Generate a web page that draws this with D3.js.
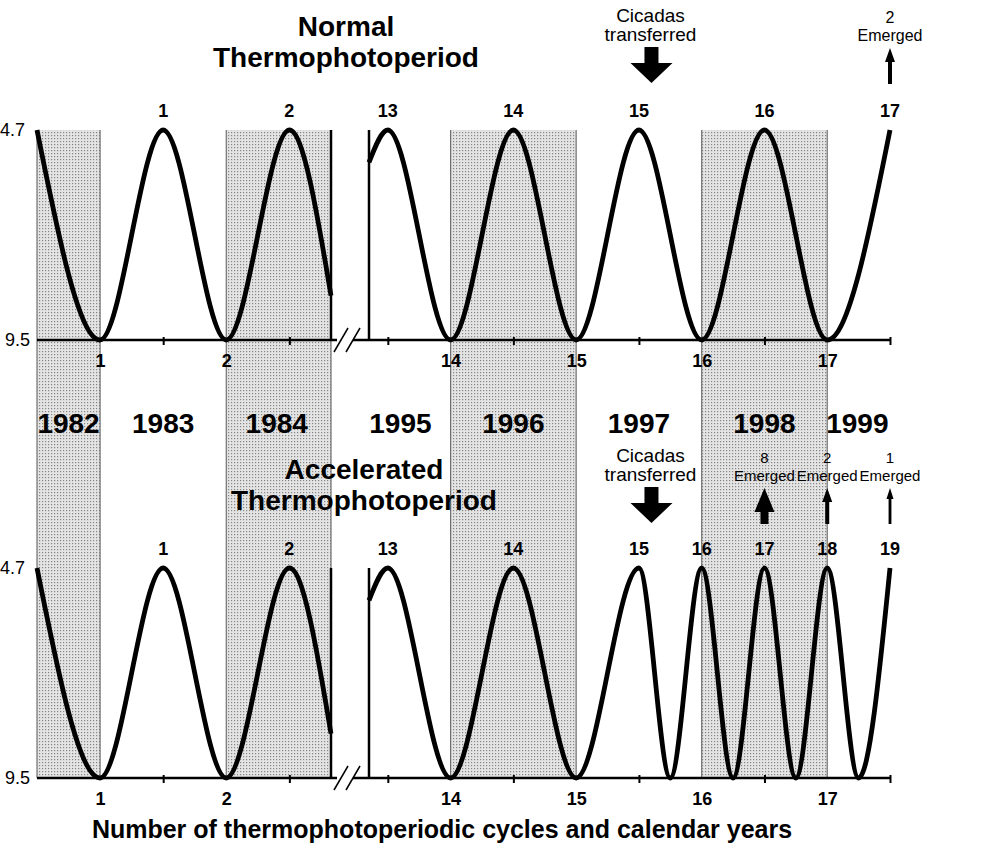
<!DOCTYPE html>
<html>
<head>
<meta charset="utf-8">
<script src="https://cdn.jsdelivr.net/npm/d3@7"></script>
<style>
  body { margin: 0; background: #fff; }
  svg text { font-family: "Liberation Sans", Arial, Helvetica, sans-serif; fill: #000; }
</style>
</head>
<body>
<svg id="chart" width="995" height="859"></svg>
<script>
// photoperiod extremes (hours of light) and the labels printed for them
let photoRange = [9.5, 14.7];
let photoLabels = ["9.5", "4.7"];

// cycle numbers covered by the two pieces of the broken x axis
let segmentDomains = [[0.5, 2.83], [13.35, 17.5]];
let cycleTicks = [1, 2, 14, 15, 16, 17];
let halfTicks = [1.5, 2.5, 13.5, 14.5, 15.5, 16.5, 17.5];

let years = ["1982", "1983", "1984", "1995", "1996", "1997", "1998", "1999"];
let yearCycles = [0.75, 1.5, 2.4, 13.6, 14.5, 15.5, 16.5, 17.24];

// shaded calendar years
let shadeSpans = [[0.5, 1], [2, 2.83], [14, 15], [16, 17]];

let normalPeaks = [1, 2, 13, 14, 15, 16, 17];
let normalPeakCycles = [1.5, 2.5, 13.5, 14.5, 15.5, 16.5, 17.5];
let accelPeaks = [1, 2, 13, 14, 15, 16, 17, 18, 19];
let accelPeakCycles = [1.5, 2.5, 13.5, 14.5, 15.5, 16, 16.5, 17, 17.5];

// [cycle, photoperiod h] turning points
let earlyCycles = [[0.5, 14.7], [1, 9.5], [1.5, 14.7], [2, 9.5], [2.5, 14.7], [2.83, 10.6]];
let normalLate = [[13.35, 13.9], [13.5, 14.7], [14, 9.5], [14.5, 14.7], [15, 9.5],
                  [15.5, 14.7], [16, 9.5], [16.5, 14.7], [17, 9.5], [17.5, 14.7]];
let accelLate = [[13.35, 13.9], [13.5, 14.7], [14, 9.5], [14.5, 14.7], [15, 9.5],
                 [15.5, 14.7], [15.75, 9.5], [16, 14.7], [16.25, 9.5], [16.5, 14.7],
                 [16.75, 9.5], [17, 14.7], [17.25, 9.5], [17.5, 14.7]];

let transferCycle = 15.6;
let normalEmerged = [2];
let normalEmergedCycles = [17.5];
let accelEmerged = [8, 2, 1];
let accelEmergedCycles = [16.5, 17, 17.5];

let svg = d3.select('#chart');
let font = '"Liberation Sans", Arial, Helvetica, sans-serif';

let xScales = segmentDomains.map((d, i) =>
  d3.scaleLinear()
    .domain(d)
    .range(i == 0 ? [37, 331] : [369, 890])
);
let xOf = c => c < 8 ? xScales[0](c) : xScales[1](c);
let inDomain = (sc, v) => v >= sc.domain()[0] && v <= sc.domain()[1];

let shadeTop = 130, shadeBottom = 778;

// stipple pattern for the shaded years
let pat = svg.append('defs')
  .append('pattern')
  .attr('id', 'stipple')
  .attr('patternUnits', 'userSpaceOnUse')
  .attr('width', 3)
  .attr('height', 3);
pat.append('rect').attr('width', 3).attr('height', 3).attr('fill', '#e4e4e4');
pat.append('rect').attr('width', 1.2).attr('height', 1.2).attr('fill', '#858585');

svg.append('rect').attr('width', 995).attr('height', 859).attr('fill', '#fff');

svg.append('g')
  .selectAll('rect')
  .data(shadeSpans)
  .join('rect')
  .attr('x', d => xOf(d[0]))
  .attr('width', d => xOf(d[1]) - xOf(d[0]))
  .attr('y', shadeTop)
  .attr('height', shadeBottom - shadeTop)
  .attr('fill', 'url(#stipple)');

svg.append('g')
  .selectAll('line')
  .data(shadeSpans.flat())
  .join('line')
  .attr('x1', d => xOf(d))
  .attr('x2', d => xOf(d))
  .attr('y1', shadeTop)
  .attr('y2', shadeBottom)
  .attr('stroke', '#707070')
  .attr('stroke-width', 1.2);

// calendar years between the panels
svg.append('g')
  .selectAll('text')
  .data(years)
  .join('text')
  .attr('x', (d, i) => xOf(yearCycles[i]))
  .attr('y', 433)
  .attr('text-anchor', 'middle')
  .attr('font-size', 28)
  .attr('font-weight', 'bold')
  .text(d => d);

function arrowPath(cx, tail, tip, shaftW, headW, headLen) {
  let dir = tip > tail ? 1 : -1;
  let neck = tip - dir * headLen;
  let pts = [[cx - shaftW / 2, tail], [cx + shaftW / 2, tail], [cx + shaftW / 2, neck],
             [cx + headW / 2, neck], [cx, tip], [cx - headW / 2, neck], [cx - shaftW / 2, neck]];
  return d3.line()(pts) + 'Z';
}

// two stacked lines kept in one text element
function stackedText(g, x, y, lines, size, gap) {
  let t = g.append('text')
    .attr('x', x)
    .attr('y', y)
    .attr('text-anchor', 'middle')
    .attr('font-size', size);
  lines.forEach((s, i) => {
    t.append('tspan')
      .attr('x', x)
      .attr('dy', i == 0 ? 0 : gap)
      .text(s);
  });
  return t;
}

let shaftScale = d3.scaleSqrt().domain([0, 8]).range([0, 8]);

let panels = [
  { top: 130, base: 340, late: normalLate, peaks: normalPeaks, peakCycles: normalPeakCycles,
    emerged: normalEmerged, emergedCycles: normalEmergedCycles,
    title: ["Normal", "Thermophotoperiod"], titleX: 346, titleY: 36,
    noteY: 22, countY: 25, countSize: 16, labelX: [30, 25] },
  { top: 568, base: 778, late: accelLate, peaks: accelPeaks, peakCycles: accelPeakCycles,
    emerged: accelEmerged, emergedCycles: accelEmergedCycles,
    title: ["Accelerated", "Thermophotoperiod"], titleX: 364, titleY: 479,
    noteY: 462, countY: 465, countSize: 15, labelX: [30, 25] }
];

panels.forEach(p => {
  let g = svg.append('g');
  let y = d3.scaleLinear().domain(photoRange).range([p.base, p.top]);

  // y values
  g.selectAll('.ylab')
    .data(photoRange)
    .join('text')
    .attr('class', 'ylab')
    .attr('x', (d, i) => p.labelX[i])
    .attr('y', d => y(d))
    .attr('dy', '0.36em')
    .attr('text-anchor', 'end')
    .attr('font-size', 18)
    .text((d, i) => photoLabels[i]);

  // baseline with the break
  let r0 = xScales[0].range(), r1 = xScales[1].range();
  [[r0[0], r0[1] + 6], [r1[0] - 16, r1[1]]].forEach(s => {
    g.append('line')
      .attr('x1', s[0]).attr('x2', s[1])
      .attr('y1', p.base).attr('y2', p.base)
      .attr('stroke', '#000').attr('stroke-width', 2.5);
  });
  [0, 12].forEach(off => {
    g.append('line')
      .attr('x1', r0[1] + 3 + off).attr('y1', p.base + 12)
      .attr('x2', r0[1] + 17 + off).attr('y2', p.base - 12)
      .attr('stroke', '#000').attr('stroke-width', 1.5);
  });

  // segment end walls
  [r0[1], r1[0]].forEach(x => {
    g.append('line')
      .attr('x1', x).attr('x2', x)
      .attr('y1', p.top).attr('y2', p.base)
      .attr('stroke', '#000').attr('stroke-width', 2.5);
  });

  xScales.forEach(sc => {
    let minor = d3.axisBottom(sc)
      .tickValues(halfTicks.filter(v => inDomain(sc, v)))
      .tickSize(8)
      .tickFormat('');
    let ga = g.append('g')
      .attr('transform', `translate(0, ${p.base - 3})`)
      .call(minor);
    ga.select('.domain').remove();
    ga.selectAll('line').attr('stroke-width', 2);

    let labels = d3.axisBottom(sc)
      .tickValues(cycleTicks.filter(v => inDomain(sc, v)))
      .tickSize(0)
      .tickPadding(14)
      .tickFormat(d3.format('d'));
    let gl = g.append('g')
      .attr('transform', `translate(0, ${p.base})`)
      .call(labels);
    gl.select('.domain').remove();
    gl.attr('font-family', font)
      .attr('font-size', 18)
      .attr('font-weight', 'bold');
  });

  let line = sc => d3.line()
    .x(d => sc(d[0]))
    .y(d => y(d[1]))
    .curve(d3.curveMonotoneX);

  [earlyCycles, p.late].forEach((pts, i) => {
    g.append('path')
      .attr('d', line(xScales[i])(pts))
      .attr('fill', 'none')
      .attr('stroke', '#000')
      .attr('stroke-width', 4.8);
  });

  // cycle numbers over the peaks
  g.selectAll('.peak')
    .data(p.peaks)
    .join('text')
    .attr('class', 'peak')
    .attr('x', (d, i) => xOf(p.peakCycles[i]))
    .attr('y', p.top - 13)
    .attr('text-anchor', 'middle')
    .attr('font-size', 18)
    .attr('font-weight', 'bold')
    .text(d => d);

  // panel title
  stackedText(g, p.titleX, p.titleY, p.title, 28, 31)
    .attr('font-weight', 'bold');

  // transfer note
  let tx = xOf(transferCycle);
  stackedText(g, tx - 1, p.noteY, ["Cicadas", "transferred"], 19, 19);
  g.append('path')
    .attr('d', arrowPath(tx, p.noteY + 25, p.noteY + 61, 14, 42, 20))
    .attr('fill', '#000');

  // emergences
  p.emerged.forEach((n, i) => {
    let ex = xOf(p.emergedCycles[i]);
    let sw = shaftScale(n), hw = sw * 2.5;
    stackedText(g, ex, p.countY - 2, [String(n), "Emerged"], p.countSize, 17.5);
    g.append('path')
      .attr('d', arrowPath(ex, p.countY + 59, p.countY + 23, sw, hw, hw + 4))
      .attr('fill', '#000');
  });
});

svg.append('text')
  .attr('x', 442)
  .attr('y', 838)
  .attr('text-anchor', 'middle')
  .attr('font-size', 25)
  .attr('font-weight', 'bold')
  .text('Number of thermophotoperiodic cycles and calendar years');
</script>
</body>
</html>
